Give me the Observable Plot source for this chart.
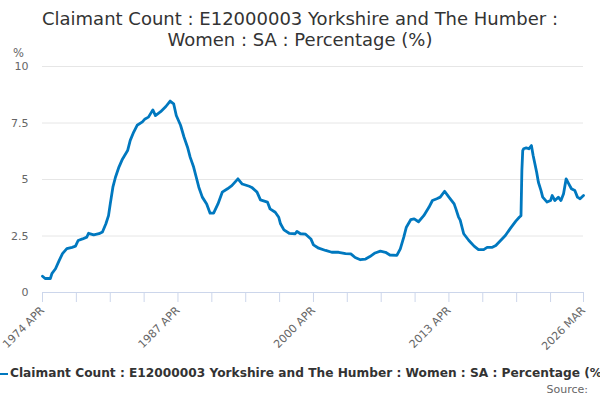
<!DOCTYPE html>
<html><head><meta charset="utf-8">
<script src="https://cdn.jsdelivr.net/npm/d3@7"></script>
<script src="https://cdn.jsdelivr.net/npm/@observablehq/plot@0.6"></script>
<style>
body{margin:0;background:#fff;font-family:"DejaVu Sans",Verdana,sans-serif;}
#wrap{position:relative;width:600px;height:400px;overflow:hidden;}
#title{position:absolute;left:0;top:8px;width:600px;text-align:center;font-size:18px;line-height:21px;color:#333;}
#plot{position:absolute;left:0;top:0;}
#unit{position:absolute;left:13px;top:46px;font-size:11.5px;color:#666;}
#legend{position:absolute;left:0;top:366px;white-space:nowrap;font-size:12.2px;font-weight:bold;color:#333;}
#legend span.sw{display:inline-block;width:8px;height:2px;background:#0078bf;vertical-align:middle;margin-right:2px;}
#source{position:absolute;right:12px;top:383px;font-size:11px;color:#666;}
</style></head>
<body>
<div id="wrap">
  <div id="plot"></div>
  <div id="title">Claimant Count : E12000003 Yorkshire and The Humber :<br>Women : SA : Percentage (%)</div>
  <div id="unit">%</div>
  <div id="legend"><span class="sw"></span>Claimant Count : E12000003 Yorkshire and The Humber : Women : SA : Percentage (%)</div>
  <div id="source">Source:</div>
</div>
<script>
const dates = ["1974-04","1974-07","1975-01","1975-03","1975-07","1975-11","1976-03","1976-08","1977-02","1977-06","1977-09","1978-02","1978-07","1978-09","1979-03","1979-09","1980-01","1980-05","1980-08","1980-10","1981-01","1981-04","1981-08","1981-12","1982-06","1982-09","1983-01","1983-05","1983-11","1984-02","1984-06","1984-11","1985-02","1985-08","1986-02","1986-07","1986-11","1987-02","1987-07","1987-11","1988-03","1988-06","1988-10","1989-01","1989-04","1989-08","1990-01","1990-05","1990-09","1991-02","1991-07","1992-01","1992-06","1993-01","1993-06","1994-02","1994-05","1994-11","1995-03","1995-11","1996-02","1996-08","1996-12","1997-02","1997-06","1997-12","1998-07","1998-09","1999-01","1999-07","2000-01","2000-04","2000-10","2001-06","2002-01","2002-09","2003-05","2003-11","2004-04","2004-10","2005-04","2005-09","2006-03","2006-09","2007-03","2007-08","2008-04","2008-08","2008-12","2009-03","2009-08","2009-12","2010-05","2010-11","2011-05","2011-09","2012-02","2012-06","2012-11","2013-04","2013-10","2013-12","2014-03","2014-05","2014-09","2015-03","2015-09","2016-02","2016-08","2016-12","2017-06","2017-10","2018-03","2018-09","2019-03","2019-09","2020-01","2020-03","2020-04","2020-05","2020-06","2020-09","2020-12","2021-03","2021-05","2021-07","2021-09","2021-11","2022-02","2022-04","2022-09","2023-01","2023-03","2023-06","2023-10","2024-01","2024-04","2024-07","2024-10","2025-01","2025-05","2025-08","2025-11","2026-03"];
const values = [0.72,0.62,0.62,0.85,1.05,1.40,1.72,1.94,2.00,2.05,2.30,2.37,2.45,2.62,2.55,2.60,2.68,3.04,3.40,3.92,4.66,5.10,5.55,5.90,6.28,6.73,7.10,7.40,7.55,7.68,7.76,8.08,7.83,8.00,8.23,8.47,8.35,7.83,7.40,6.87,6.43,5.99,5.55,5.10,4.66,4.22,3.92,3.51,3.51,3.92,4.44,4.59,4.73,5.03,4.80,4.70,4.65,4.44,4.10,4.00,3.70,3.55,3.33,3.04,2.77,2.62,2.60,2.70,2.60,2.58,2.37,2.11,1.96,1.86,1.78,1.78,1.72,1.71,1.55,1.45,1.48,1.59,1.75,1.83,1.78,1.66,1.64,1.93,2.45,2.89,3.22,3.26,3.13,3.40,3.77,4.07,4.15,4.22,4.48,4.22,3.92,3.70,3.35,3.20,2.60,2.30,2.05,1.90,1.90,2.00,2.00,2.08,2.28,2.52,2.85,3.16,3.33,3.40,5.40,6.28,6.36,6.40,6.36,6.50,6.06,5.70,5.32,4.88,4.51,4.22,4.00,4.07,4.29,4.07,4.22,4.07,4.37,5.03,4.81,4.59,4.51,4.22,4.15,4.29];
const yTicks = [0, 2.5, 5, 7.5, 10];
const yTickLabels = ["0", "2.5", "5", "7.5", "10"];
const xTickDates = ["1974-04","1977-07","1980-10","1984-01","1987-04","1990-07","1993-10","1997-01","2000-04","2003-07","2006-10","2010-01","2013-04","2016-07","2019-10","2023-01","2026-03"];
const xLabelDates = ["1974-04","1987-04","2000-04","2013-04","2026-03"];
const xLabels = ["1974 APR","1987 APR","2000 APR","2013 APR","2026 MAR"];

const parse = d3.utcParse("%Y-%m");
const data = dates.map((d, i) => ({date: parse(d), value: values[i]}));
const xt = xTickDates.map(parse);
const labelMap = new Map(xLabelDates.map((d, i) => [+parse(d), xLabels[i]]));

const chart = Plot.plot({
  width: 600, height: 400,
  marginTop: 66, marginBottom: 108, marginLeft: 42, marginRight: 17,
  style: {fontFamily: "DejaVu Sans, Verdana, sans-serif", fontSize: "11px", background: "transparent"},
  x: {type: "utc", domain: [parse("1974-04"), parse("2026-03")]},
  y: {domain: [0, 10]},
  marks: [
    Plot.gridY(yTicks.slice(1), {stroke: "#e6e6e6", strokeOpacity: 1}),
    Plot.axisY(yTicks, {tickSize: 0, tickPadding: 14, tickFormat: (d) => yTickLabels[yTicks.indexOf(d)], fill: "#666", label: null, fontSize: 11}),
    Plot.ruleY([0], {stroke: "#ccd6eb"}),
    Plot.axisX(xt, {tickSize: 10, stroke: "#ccd6eb", fill: "#666", tickFormat: d => labelMap.get(+d) ?? "", tickRotate: -45, label: null, fontSize: 11, tickPadding: 6}),
    Plot.line(data, {x: "date", y: "value", stroke: "#0078bf", strokeWidth: 2.8, strokeLinejoin: "round"})
  ]
});
document.getElementById("plot").appendChild(chart);
</script>
</body></html>
